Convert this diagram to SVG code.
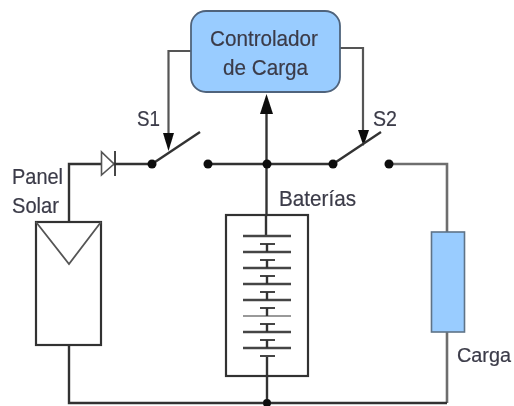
<svg xmlns="http://www.w3.org/2000/svg" width="514" height="406" viewBox="0 0 514 406">
<defs>
<filter id="soft" x="-5%" y="-5%" width="110%" height="110%"><feGaussianBlur stdDeviation="0.6"/></filter>
</defs>
<style>
text{font-family:"Liberation Sans",Arial,sans-serif;font-size:22.5px;fill:#3b3b48;stroke:#3b3b48;stroke-width:.2}
.w{fill:none;stroke:#555;stroke-width:2.2}
.g{fill:none;stroke:#6e6e6e;stroke-width:2.6}
.k{fill:none;stroke:#333;stroke-width:2.4}
.dot{fill:#111}
.plate{stroke:#444;stroke-width:2.6}
</style>
<rect width="514" height="406" fill="#fff"/>
<g filter="url(#soft)">
<g id="connectors">
<path class="w" d="M191 51H168.500V140"/>
<path d="M163 133H174L168.500 151Z" fill="#111"/>
<path class="w" d="M340 48H363V136"/>
<path d="M358 130H369L363.500 146Z" fill="#111"/>
<path class="k" d="M266.500 214V112"/>
<path d="M260 114H273L266.500 94Z" fill="#111"/>
<path class="k" d="M69 222V164H152"/>
<path class="k" d="M152 164L200 132"/>
<path class="k" d="M208 164H333L381 132"/>
<path class="g" d="M389 164H447V232"/>
<path class="g" d="M447 332V403"/>
<path class="k" d="M69 345V403H447"/>
<path class="k" d="M267 356V403"/>
</g>
<g id="controlador">
<rect x="191" y="11" width="149" height="81" rx="15" fill="#99ccff" stroke="#50647c" stroke-width="1.800"/>
<text x="210" y="46" textLength="108" lengthAdjust="spacingAndGlyphs">Controlador</text>
<text x="223" y="75" textLength="85" lengthAdjust="spacingAndGlyphs">de Carga</text>
</g>
<g id="s1"><circle class="dot" cx="152" cy="164" r="4.500"/><circle class="dot" cx="208" cy="164" r="4.500"/><text x="137" y="126" textLength="23" lengthAdjust="spacingAndGlyphs">S1</text></g>
<g id="s2"><circle class="dot" cx="333" cy="164" r="4.500"/><circle class="dot" cx="389" cy="164" r="4.500"/><text x="373" y="126" textLength="24" lengthAdjust="spacingAndGlyphs">S2</text></g>
<g id="junction"><circle class="dot" cx="267" cy="164" r="4.500"/><circle class="dot" cx="267" cy="403" r="4"/></g>
<g id="diodo">
<path d="M101.500 152V175L114 164Z" fill="#fff" stroke="#555" stroke-width="1.600"/>
<path d="M115 151V176" stroke="#333" stroke-width="1.800"/>
</g>
<g id="panel">
<rect x="36" y="222" width="65" height="123" fill="#fff" stroke="#333" stroke-width="2.200"/>
<path d="M36 222L69 264L101 222" fill="none" stroke="#555" stroke-width="1.800"/>
<text x="12" y="184" textLength="51" lengthAdjust="spacingAndGlyphs">Panel</text>
<text x="12" y="213" textLength="47" lengthAdjust="spacingAndGlyphs">Solar</text>
</g>
<g id="baterias">
<rect x="226" y="215" width="82" height="161" fill="none" stroke="#333" stroke-width="2.200"/>
<path class="k" d="M266 214V236"/>
<path class="plate" d="M243 236H291M243 252H291M243 268H291M243 284H291M243 300H291"/>
<path class="plate" d="M243 332H291M243 348H291" stroke="#666"/>
<path d="M243 316H291" stroke="#999" stroke-width="2"/>
<path stroke="#444" stroke-width="2.200" d="M260 244H275M260 260H275M260 276H275M260 292H275M260 308H275M260 324H275M260 340H275M260 356H275"/>
<path class="k" d="M267 244V252M267 260V268M267 276V284M267 292V300M267 308V316M267 324V332M267 340V348"/>
<text x="279" y="206" textLength="77" lengthAdjust="spacingAndGlyphs">Baterías</text>
</g>
<g id="carga">
<rect x="431.500" y="232" width="33" height="100" fill="#99ccff" stroke="#5f7387" stroke-width="1.600"/>
<text x="457" y="362" style="font-size:20px" textLength="54" lengthAdjust="spacingAndGlyphs">Carga</text>
</g>
</g>
</svg>
